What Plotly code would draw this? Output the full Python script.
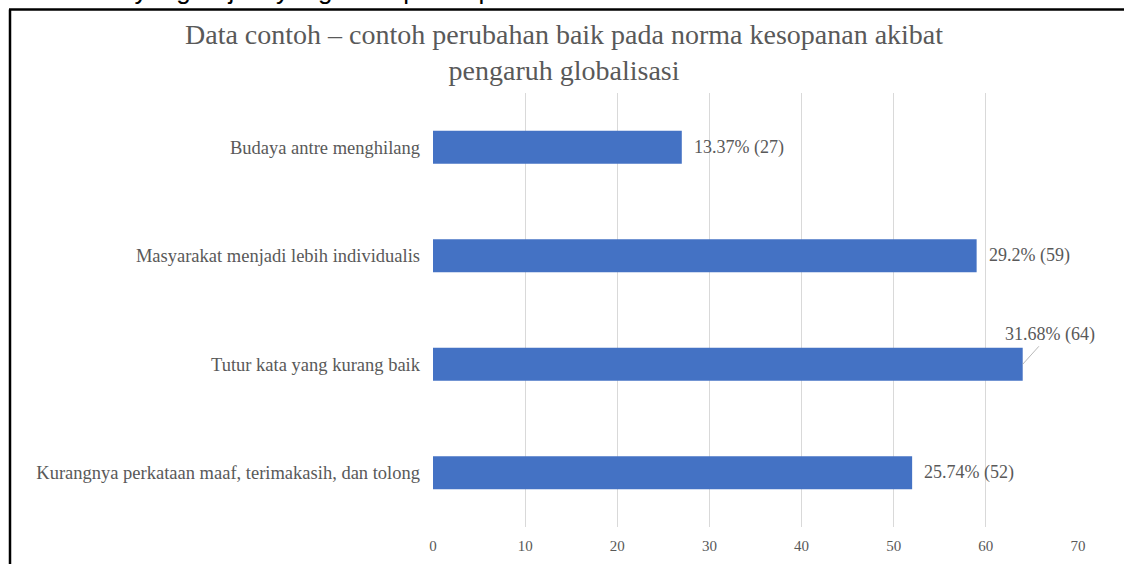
import plotly.graph_objects as go

# ---- data ----
categories = [
    "Kurangnya perkataan maaf, terimakasih, dan tolong",
    "Tutur kata yang kurang baik",
    "Masyarakat menjadi lebih individualis",
    "Budaya antre menghilang",
]
counts = [52, 64, 59, 27]
percents = [25.74, 31.68, 29.2, 13.37]
x_ticks = [0, 10, 20, 30, 40, 50, 60, 70]

title_text = ("Data contoh – contoh perubahan baik pada norma kesopanan akibat"
              "<br>pengaruh globalisasi")
caption_text = "nan Bar an yang terjadi yang ditampilkan pada Gambar 3."

W, H = 1124, 564
ML, MR, MT, MB = 433, 46, 93, 37
PW, PH = W - ML - MR, H - MT - MB

def px_x(p):
    return (p - ML) / PW

def px_y(p):
    return (H - MB - p) / PH

SERIF = "Liberation Serif, Times New Roman, serif"
GREY = "#595959"
BLUE = "#4472C4"

fig = go.Figure()
fig.add_trace(go.Bar(
    x=counts, y=categories, orientation="h",
    marker=dict(color=BLUE, line=dict(width=0)),
    width=0.305, hoverinfo="skip",
))

labels = [f"{p:g}% ({c})" for p, c in zip(percents, counts)]
max_i = counts.index(max(counts))
for i, (cat, c, lab) in enumerate(zip(categories, counts, labels)):
    if i == max_i:
        fig.add_annotation(
            x=c, y=cat, text=lab, showarrow=True, arrowhead=0,
            arrowwidth=0.8, arrowcolor="#A6A6A6", ax=27, ay=-30,
            font=dict(family=SERIF, size=18, color=GREY),
        )
    else:
        fig.add_annotation(
            x=c, y=cat, text=lab, showarrow=False, xanchor="left",
            xshift=10, font=dict(family=SERIF, size=18, color=GREY),
        )

# chart title (two lines)
fig.add_annotation(
    xref="paper", yref="paper", x=px_x(564), y=px_y(52),
    xanchor="center", yanchor="middle", showarrow=False, text=title_text,
    font=dict(family=SERIF, size=28, color=GREY),
)

# caption line of the surrounding document, cut off at the top
fig.add_annotation(
    xref="paper", yref="paper", x=px_x(-2), y=px_y(7.5),
    xanchor="left", yanchor="bottom", showarrow=False,
    text=caption_text,
    font=dict(family="Liberation Sans, Arial, sans-serif", size=26, color="#000000"),
)

# frame of the figure in the document
fig.add_shape(type="line", xref="paper", yref="paper",
              x0=px_x(9), x1=px_x(W + 5), y0=px_y(9.5), y1=px_y(9.5),
              line=dict(color="#000000", width=2.5))
fig.add_shape(type="line", xref="paper", yref="paper",
              x0=px_x(10), x1=px_x(10), y0=px_y(9.5), y1=px_y(H + 5),
              line=dict(color="#000000", width=2.5))

fig.update_layout(
    width=W, height=H,
    margin=dict(l=ML, r=MR, t=MT, b=MB, autoexpand=False),
    paper_bgcolor="white", plot_bgcolor="white",
    showlegend=False,
    xaxis=dict(range=[0, 70], tickvals=x_ticks, showgrid=True,
               gridcolor="#D9D9D9", gridwidth=1, zeroline=False,
               showline=False, ticks="", ticklabelstandoff=8,
               tickfont=dict(family=SERIF, size=15, color=GREY)),
    yaxis=dict(categoryorder="array", categoryarray=categories,
               showgrid=False, zeroline=False, showline=False, ticks="",
               ticklabelstandoff=12,
               tickfont=dict(family=SERIF, size=18.5, color=GREY)),
)

fig.write_html(
    "out.html",
    config={"displayModeBar": False},
    post_script="document.body.style.margin='0';document.body.style.overflow='hidden';",
)
